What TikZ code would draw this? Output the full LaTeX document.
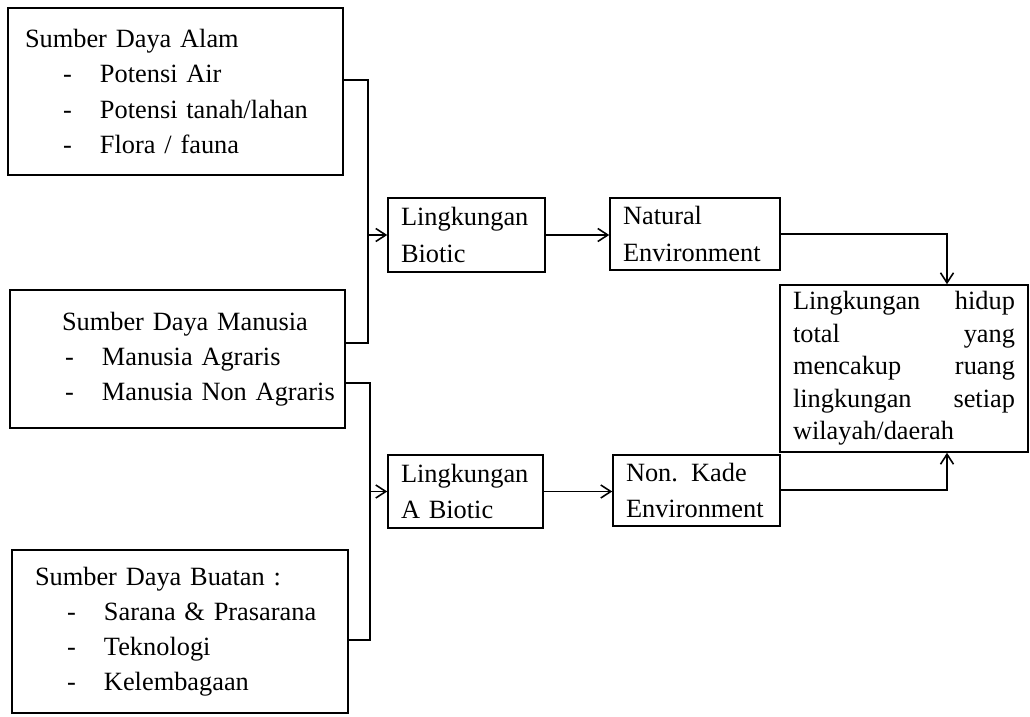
\documentclass[tikz,border=0pt]{standalone}
\usepackage{fontspec}
\setmainfont{Liberation Serif}
\usepackage{tikz}
\usetikzlibrary{arrows.meta}
\tikzset{>={Straight Barb[length=2mm, width=2.6mm]}}
\newcommand*{\itm}[1]{\hspace*{.9cm}\makebox[.74cm][l]{-}#1}
\tikzset{
    srcbox/.style={draw, line width=.9pt, align=left, inner xsep=.2cm, inner ysep=0pt, font=\fontsize{15}{20}\selectfont},
    envbox/.style={draw, line width=.9pt, align=left, inner xsep=.26cm, inner ysep=0pt, font=\fontsize{15}{21}\selectfont},
    link/.style={line width=.9pt}
}

\begin{document}
\begin{tikzpicture}[x=.02cm, y=-.02cm]
    \useasboundingbox(0, 0) rectangle (1030, 716);
    \node[srcbox, text width=6.3cm, minimum height=3.34cm](alam) at(175.5, 91.5){\hspace*{.14cm}Sumber Daya Alam\\ \itm{Potensi Air}\\ \itm{Potensi tanah/lahan}\\ \itm{Flora / fauna}};
    \node[srcbox, text width=6.3cm, minimum height=2.76cm](manusia) at(177.5, 359){\hspace*{.84cm}Sumber Daya Manusia\\ \itm{Manusia Agraris}\\ \itm{Manusia Non Agraris}};
    \node[srcbox, text width=6.32cm, minimum height=3.26cm](buatan) at(180, 631.5){\hspace*{.26cm}Sumber Daya Buatan :\\ \itm{Sarana \& Prasarana}\\ \itm{Teknologi}\\ \itm{Kelembagaan}};
    \node[envbox, text width=2.62cm, minimum height=1.48cm](biotic) at(466.5, 235){Lingkungan\\ Biotic};
    \node[envbox, text width=2.88cm, minimum height=1.44cm](natural) at(695, 234){Natural\\ Environment};
    \node[envbox, text width=2.58cm, minimum height=1.46cm](abiotic) at(465.5, 491.5){Lingkungan\\ A Biotic};
    \node[envbox, text width=2.82cm, minimum height=1.42cm](nonkade) at(696.5, 490.5){Non. Kade\\ Environment};
    \node[envbox, text width=4.44cm, minimum height=3.34cm, font=\fontsize{15}{18.5}\selectfont](total) at(904, 368.5){Lingkungan\hfill hidup\\ total\hfill yang\\ mencakup\hfill ruang\\ lingkungan\hfill setiap\\ wilayah/daerah};
    % brackets from the three sources
    \coordinate(brA) at(368, 80);
    \coordinate(brB) at(368, 343);
    \coordinate(brC) at(370, 383);
    \coordinate(brD) at(370, 640);
    \draw[link](alam.east |- brA)--(brA)--(brB)--(manusia.east |- brB);
    \draw[link](manusia.east |- brC)--(brC)--(brD)--(buatan.east |- brD);
    \draw[link, ->](brA |- biotic.west)--(biotic.west);
    \draw[link, ->](brC |- abiotic.west)--(abiotic.west);
    \draw[link, ->](biotic.east)--(natural.west |- biotic.east);
    \draw[link, ->](abiotic.east)--(nonkade.west |- abiotic.east);
    \coordinate(mgA) at(947, 234);
    \coordinate(mgB) at(947, 490);
    \draw[link, ->](natural.east |- mgA)--(mgA)--(mgA |- total.north);
    \draw[link, ->](nonkade.east |- mgB)--(mgB)--(mgB |- total.south);
\end{tikzpicture}
\end{document}
